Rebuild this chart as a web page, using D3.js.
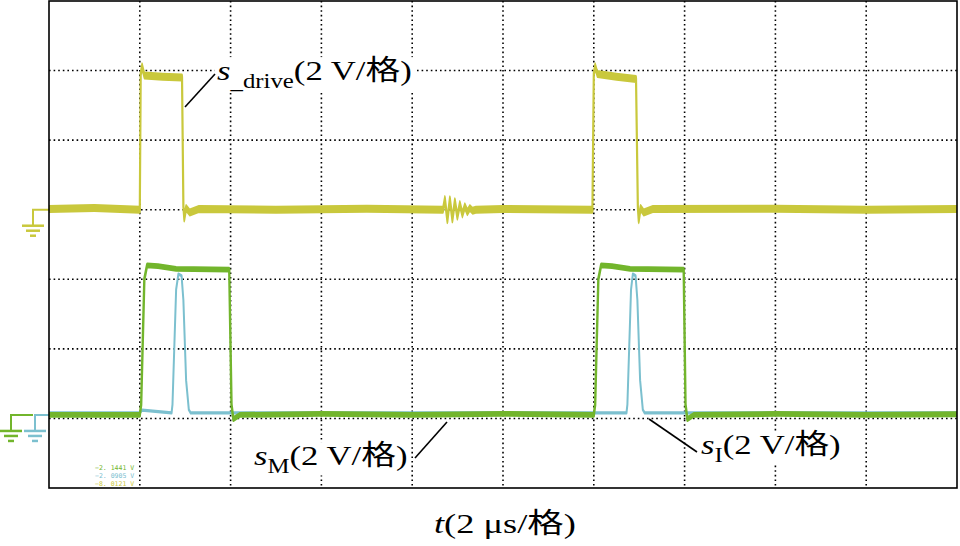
<!DOCTYPE html>
<html>
<head>
<meta charset="utf-8">
<script src="https://cdn.jsdelivr.net/npm/d3@7"></script>
<style>
  body { margin: 0; background: #fff; }
</style>
</head>
<body>
<div id="chart"></div>
<script>
// scope screen: 10 div x 2 us, 7 div x 2 V
const timeGrid = d3.range(2, 20, 2);
const voltGrid = d3.range(2, 14, 2);

// ground offset of each channel on screen (V)
const groundDrive = 8;
const groundM = 2.1;
const groundI = 2.1;

// [t (us), v (V)]
const sDrive = [
  [0, 0.02], [1.0, 0.05], [2.0, 0.0], [2.02, 3.9], [2.05, 4.12], [2.1, 3.86], [2.5, 3.82],
  [2.93, 3.8], [2.96, 0.1], [2.98, -0.25], [3.02, 0.05], [3.1, -0.08], [3.3, 0.02],
  [5.0, 0.0], [7.0, 0.03], [8.68, 0.0],
  [8.72, 0.3], [8.775, -0.3], [8.83, 0.3], [8.885, -0.28], [8.94, 0.24], [8.995, -0.2],
  [9.05, 0.16], [9.105, -0.13], [9.16, 0.1], [9.215, -0.07], [9.27, 0.05], [9.33, -0.03],
  [9.4, 0.0], [10.0, 0.02], [11.97, 0.0], [12.0, 3.9], [12.03, 4.12], [12.08, 3.9],
  [12.5, 3.82], [12.93, 3.76], [12.97, 0.1], [12.99, -0.3], [13.03, 0.05], [13.1, -0.08],
  [13.3, 0.02], [16.0, 0.03], [18.0, 0.0], [20.0, 0.02]
];
const sM = [
  [0, 0.0], [2.0, 0.0], [2.03, 0.3], [2.1, 3.9], [2.16, 4.3], [2.4, 4.28], [2.8, 4.2],
  [3.97, 4.18], [4.02, 0.3], [4.06, -0.12], [4.2, 0.0], [6.0, 0.03], [8.0, 0.0],
  [10.0, 0.03], [12.0, 0.0], [12.03, 0.3], [12.1, 3.9], [12.16, 4.3], [12.4, 4.28],
  [12.8, 4.2], [13.98, 4.18], [14.02, 0.3], [14.06, -0.12], [14.2, 0.0], [16.0, 0.03],
  [18.0, 0.0], [20.0, 0.02]
];
const sI = [
  [0, 0.06], [2.0, 0.06], [2.05, 0.14], [2.7, 0.06], [2.72, 0.3], [2.8, 3.6], [2.85, 4.05],
  [2.92, 4.0], [2.96, 3.3], [3.02, 1.0], [3.08, 0.15], [3.12, 0.06], [8.0, 0.06],
  [12.72, 0.06], [12.74, 0.3], [12.82, 3.6], [12.86, 4.05], [12.92, 4.0], [12.96, 3.3],
  [13.02, 1.0], [13.08, 0.15], [13.12, 0.06], [20.0, 0.06]
];
const readouts = ["\u22122. 1441 V", "\u22122. 0905 V", "\u22128. 0121 V"];

const width = 960, height = 546;
const yellow = "#c9c83c", green = "#72b52c", blue = "#7cc0cf";

const svg = d3.select("#chart").append("svg")
  .attr("width", width)
  .attr("height", height)
  .style("background", "#fff");

const x = d3.scaleLinear().domain([0, 20]).range([49, 957]);
const y = d3.scaleLinear().domain([0, 14]).range([488, 1]);

// grid
svg.append("g")
  .selectAll("line")
  .data(timeGrid)
  .join("line")
  .attr("x1", d => x(d)).attr("x2", d => x(d))
  .attr("y1", y(14)).attr("y2", y(0))
  .attr("stroke", "#000").attr("stroke-width", 1.6)
  .attr("stroke-dasharray", "1.6,3");

svg.append("g")
  .selectAll("line")
  .data(voltGrid)
  .join("line")
  .attr("y1", d => y(d)).attr("y2", d => y(d))
  .attr("x1", x(0)).attr("x2", x(20))
  .attr("stroke", "#000").attr("stroke-width", 1.6)
  .attr("stroke-dasharray", "1.6,3");

// labels (white box behind, hides grid)
const labelLayer = svg.append("g");
function label(px, py, main, sub, rest, sx) {
  const g = labelLayer.append("g").attr("transform", `translate(${px},${py}) scale(${sx},1)`);
  const bg = g.append("rect").attr("fill", "#fff");
  const t = g.append("text")
    .attr("font-family", "'Liberation Serif', 'Times New Roman', 'Noto Sans CJK SC', serif")
    .attr("font-size", 28)
    .attr("fill", "#000");
  t.append("tspan").attr("font-style", "italic").text(main);
  if (sub) {
    t.append("tspan").attr("font-size", 20).attr("dy", 8).text(sub);
    t.append("tspan").attr("dy", -8).text(rest);
  } else {
    t.append("tspan").text(rest);
  }
  const b = t.node().getBBox();
  bg.attr("x", b.x - 2).attr("y", b.y + 2).attr("width", b.width + 4).attr("height", b.height - 4);
}
label(217, 80, "s", "_drive", "(2 V/格)", 1.24);
label(254, 465, "s", "M", "(2 V/格)", 1.24);
label(701, 454, "s", "I", "(2 V/格)", 1.24);
label(434, 533, "t", null, "(2 μs/格)", 1.3);

// traces: stroke stretched vertically so flat parts look like a noisy band
// while the edges stay thin
function trace(data, g, color, w, k) {
  const line = d3.line().x(d => x(d[0])).y(d => y(d[1] + g) / k);
  svg.append("g").attr("transform", `scale(1,${k})`)
    .append("path").datum(data)
    .attr("d", line)
    .attr("fill", "none").attr("stroke", color).attr("stroke-width", w)
    .attr("stroke-linejoin", "round");
}
trace(sDrive, groundDrive, yellow, 2.2, 3.6);
trace(sI, groundI, blue, 2, 1.6);
trace(sM, groundM, green, 2.4, 2.4);

// ground markers
function ground(x0, x1, yv, color) {
  const g = svg.append("g").attr("stroke", color).attr("stroke-width", 2).attr("fill", "none");
  g.append("path").attr("d", `M${x1},${y(yv)}H${x0}V${y(yv) + 16}`);
  [[11, 0], [7, 5], [3, 10]].forEach(([w, dy]) => {
    g.append("line")
      .attr("x1", x0 - w).attr("x2", x0 + w)
      .attr("y1", y(yv) + 16 + dy).attr("y2", y(yv) + 16 + dy)
      .attr("stroke-width", 2.5);
  });
}
ground(33, x(0), groundDrive, yellow);
ground(11, 33, groundM, green);
ground(35, x(0), groundI, blue);

// scope readouts
svg.append("g")
  .selectAll("text")
  .data(readouts)
  .join("text")
  .attr("x", 95)
  .attr("y", (d, i) => 470 + i * 8)
  .attr("font-family", "'DejaVu Sans Mono', monospace")
  .attr("font-size", 6.5)
  .attr("fill", (d, i) => [green, blue, yellow][i])
  .text(d => d);

// leader lines
const leaders = [[185, 107, 215, 74], [415, 458, 447, 422], [649, 419, 697, 452]];
svg.append("g")
  .selectAll("line")
  .data(leaders)
  .join("line")
  .attr("x1", d => d[0]).attr("y1", d => d[1])
  .attr("x2", d => d[2]).attr("y2", d => d[3])
  .attr("stroke", "#000").attr("stroke-width", 1.6);

// frame
svg.append("rect")
  .attr("x", x(0)).attr("y", y(14))
  .attr("width", x(20) - x(0)).attr("height", y(0) - y(14))
  .attr("fill", "none").attr("stroke", "#000").attr("stroke-width", 1.6);
</script>
</body>
</html>
